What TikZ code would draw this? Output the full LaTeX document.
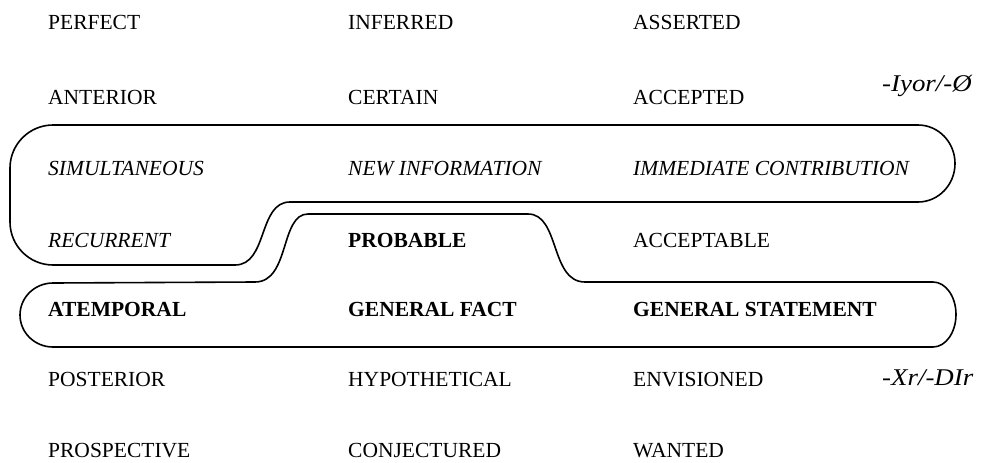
\documentclass[tikz,border=0pt]{standalone}
\usepackage{fontspec}
\setmainfont{Liberation Serif}
\newfontfamily\labelfont[FakeStretch=1.12]{Liberation Serif}
\begin{document}
\begin{tikzpicture}[x=1pt,y=-1pt,
  lbl/.style={anchor=base west,inner sep=0pt,font=\fontsize{21.5}{24}\selectfont},
  ital/.style={lbl,font=\fontsize{21.5}{24}\selectfont\itshape},
  bld/.style={lbl,font=\fontsize{21.5}{24}\selectfont\bfseries},
  suffix/.style={anchor=base west,inner sep=0pt,font=\labelfont\fontsize{24}{28}\selectfont\itshape},
  outline/.style={draw=black,line width=1.6pt}]
\useasboundingbox (0,0) rectangle (988,463);
% row 1
\node[lbl] (perfect) at (48,29) {PERFECT};
\node[lbl] (inferred) at (348,29) {INFERRED};
\node[lbl] (asserted) at (633,29) {ASSERTED};
% row 2
\node[lbl] (anterior) at (48,104) {ANTERIOR};
\node[lbl] (certain) at (348,104) {CERTAIN};
\node[lbl] (accepted) at (633,104) {ACCEPTED};
% row 3
\node[ital] (simult) at (48,175) {SIMULTANEOUS};
\node[ital] (newinfo) at (348,175) {NEW INFORMATION};
\node[ital] (immed) at (633,175) {IMMEDIATE CONTRIBUTION};
% row 4
\node[ital] (recurrent) at (48,247) {RECURRENT};
\node[bld] (probable) at (348,247) {PROBABLE};
\node[lbl] (acceptable) at (633,247) {ACCEPTABLE};
% row 5
\node[bld] (atemporal) at (48,316) {ATEMPORAL};
\node[bld] (genfact) at (348,316) {GENERAL FACT};
\node[bld] (genstat) at (633,316) {GENERAL STATEMENT};
% row 6
\node[lbl] (posterior) at (48,386) {POSTERIOR};
\node[lbl] (hypoth) at (348,386) {HYPOTHETICAL};
\node[lbl] (envis) at (633,386) {ENVISIONED};
% row 7
\node[lbl] (prospective) at (48,457) {PROSPECTIVE};
\node[lbl] (conject) at (348,457) {CONJECTURED};
\node[lbl] (wanted) at (633,457) {WANTED};
% suffix labels
\node[suffix] (iyor) at (882,91) {-Iyor/-Ø};
\node[suffix] (xr) at (882,385) {-Xr/-DIr};
% upper outline
\draw[outline] (290,202) -- (918,202)
  .. controls (938.4,202) and (955,184.8) .. (955,163.5)
  .. controls (955,142.2) and (938.4,125) .. (918,125)
  -- (53,125)
  .. controls (29.3,125) and (10,144.3) .. (10,168)
  -- (10,222)
  .. controls (10,245.7) and (29.3,265) .. (53,265)
  -- (235,265)
  .. controls (268,265) and (258,202) .. (290,202) -- cycle;
% lower outline
\draw[outline] (308,214) -- (528,214)
  .. controls (560,214) and (550,282) .. (585,282)
  -- (933,282)
  .. controls (945.7,282) and (956,296.5) .. (956,314.5)
  .. controls (956,332.4) and (945.7,347) .. (933,347)
  -- (53,347)
  .. controls (34.8,347) and (20,332.7) .. (20,315)
  .. controls (20,297.3) and (34.8,283) .. (53,283)
  -- (255,282)
  .. controls (290,282) and (280,214) .. (308,214) -- cycle;
\end{tikzpicture}
\end{document}
